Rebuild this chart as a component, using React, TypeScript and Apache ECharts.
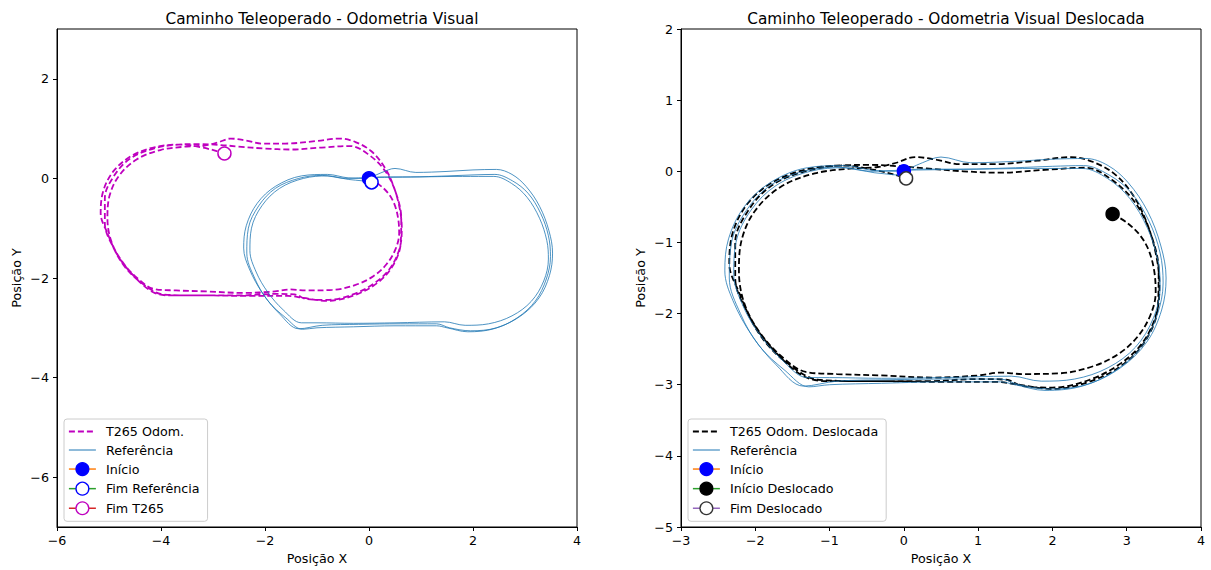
import React, { useEffect, useRef } from "react";
import * as echarts from "echarts";

// Reference path (3 laps), shared by both panels
const refX = [
  0, 0.25, 0.5, 0.9, 1.5, 2.0, 2.45, 2.75, 3.02, 3.28, 3.46, 3.53, 3.47, 3.27, 2.92, 2.45, 1.95, 1.55, 1.3, 0.6, -0.2, -0.9, -1.35, -1.72, -2.05, -2.3, -2.41, -2.36, -2.15, -1.8, -1.3, -0.8, -0.4, -0.1,
  0.2, 0.8, 1.5, 2.0, 2.42, 2.76, 3.06, 3.3, 3.45, 3.49, 3.41, 3.2, 2.85, 2.4, 1.9, 1.5, 1.3, 0.5, -0.3, -1.0, -1.28, -1.6, -1.95, -2.2, -2.35, -2.32, -2.12, -1.8, -1.35, -0.9, -0.45, -0.2,
  0.3, 1.0, 1.8, 2.4, 2.74, 3.04, 3.28, 3.42, 3.45, 3.36, 3.12, 2.75, 2.3, 1.85, 1.45, 0.5, -0.3, -1.0, -1.3, -1.65, -1.95, -2.17, -2.29, -2.26, -2.06, -1.72, -1.26, -0.8, -0.4, -0.12, 0.05,
];
const refY = [
  0, 0.12, 0.2, 0.12, 0.14, 0.17, 0.18, 0.08, -0.16, -0.56, -1.05, -1.5, -1.95, -2.4, -2.76, -3.0, -3.06, -3.0, -2.92, -2.92, -2.93, -2.95, -3.02, -2.72, -2.3, -1.82, -1.4, -0.95, -0.5, -0.16, 0.05, 0.08, 0.01, 0.0,
  0.03, 0.03, 0.05, 0.07, 0.08, -0.05, -0.3, -0.7, -1.15, -1.57, -2.02, -2.46, -2.8, -3.02, -3.08, -3.0, -2.96, -2.96, -2.98, -3.0, -3.03, -2.8, -2.45, -2.0, -1.5, -1.0, -0.55, -0.2, 0.0, 0.06, 0.0, 0.01,
  0.02, 0.03, 0.04, 0.04, -0.1, -0.38, -0.8, -1.25, -1.62, -2.06, -2.47, -2.76, -2.92, -2.95, -2.88, -2.9, -2.91, -2.9, -2.9, -2.64, -2.28, -1.88, -1.45, -1.0, -0.55, -0.2, 0.0, 0.05, -0.02, -0.05, -0.08,
];

// T265 odometry, shifted (as in the right panel)
const deslX = [
  2.81, 3.0, 3.18, 3.3, 3.37, 3.39, 3.32, 3.15, 2.9, 2.55, 2.1, 1.6, 1.3, 1.0, 0.4, -0.3, -0.9, -1.32, -1.65, -1.95, -2.15, -2.22, -2.18, -2.0, -1.66, -1.2, -0.7, -0.35, -0.1, 0.15, 0.45, 0.75, 1.2, 1.8, 2.25, 2.55, 2.85, 3.1, 3.28, 3.4, 3.44,
  3.4, 3.22, 2.92, 2.5, 2.0, 1.6, 1.38, 1.0, 0.3, -0.5, -1.15, -1.5, -1.85, -2.1, -2.27, -2.27, -2.1, -1.78, -1.33, -0.85, -0.45, -0.05, 0.3, 0.8, 1.3, 1.9, 2.45, 2.8, 3.12, 3.33, 3.43,
  3.42, 3.27, 2.97, 2.52, 2.0, 1.55, 1.25, 0.5, -0.3, -1.0, -1.35, -1.72, -2.02, -2.22, -2.35, -2.3, -2.1, -1.76, -1.3, -0.8, -0.4, -0.12, 0.03,
];
const deslY = [
  -0.6, -0.72, -0.9, -1.12, -1.4, -1.7, -2.02, -2.32, -2.56, -2.74, -2.84, -2.85, -2.83, -2.87, -2.9, -2.87, -2.85, -2.82, -2.6, -2.25, -1.85, -1.4, -0.95, -0.55, -0.22, -0.03, 0.04, 0.06, 0.12, 0.2, 0.16, 0.1, 0.1, 0.15, 0.2, 0.13, -0.05, -0.36, -0.75, -1.2, -1.6,
  -2.0, -2.4, -2.7, -2.93, -3.04, -3.02, -2.93, -2.92, -2.95, -2.95, -2.93, -2.75, -2.42, -2.0, -1.5, -1.0, -0.56, -0.2, 0.0, 0.08, 0.09, 0.07, 0.04, 0.0, -0.02, 0.02, 0.05, -0.12, -0.45, -0.9, -1.4,
  -1.9, -2.35, -2.7, -2.95, -3.06, -3.0, -2.96, -2.96, -2.95, -2.95, -2.88, -2.55, -2.15, -1.7, -1.3, -0.85, -0.45, -0.15, 0.03, 0.08, 0.02, -0.05, -0.1,
];
const shift = [2.81, -0.6];

const inicio = [0, 0];
const fimReferencia = [0.05, -0.08];

const leftTicksY = [-6, -4, -2, 0, 2];

const FONT = "DejaVu Sans";
const FS = 12.7;
const minus = (v: number) => String(v).replace("-", "\u2212");

export default function App() {
  const ref = useRef<HTMLDivElement>(null);
  useEffect(() => {
    if (!ref.current) return;
    const chart = echarts.init(ref.current, undefined, { renderer: "svg" });
    const refData = refX.map((x, i) => [x, refY[i]]);
    const deslData = deslX.map((x, i) => [x, deslY[i]]);
    const t265Data = deslX.map((x, i) => [+(x - shift[0]).toFixed(3), +(deslY[i] - shift[1]).toFixed(3)]);
    const fimT265 = t265Data[t265Data.length - 1];
    const inicioDesl = deslData[0];
    const fimDesl = deslData[deslData.length - 1];

    const axisCommon = {
      type: "value",
      axisLine: { show: true, onZero: false, lineStyle: { color: "#000", width: 1 } },
      axisTick: { show: true, inside: false, length: 4, lineStyle: { color: "#000" } },
      axisLabel: { color: "#000", fontSize: FS, fontFamily: FONT, formatter: minus },
      splitLine: { show: false },
      nameLocation: "middle",
      nameTextStyle: { color: "#000", fontSize: FS, fontFamily: FONT },
    };

    const marker = (name: string, xi: number, d: number[], fill: string, border: string, lineColor: string) => ({
      name,
      type: "line",
      xAxisIndex: xi,
      yAxisIndex: xi,
      data: [d],
      symbol: "circle",
      symbolSize: 13,
      showSymbol: true,
      itemStyle: { color: fill, borderColor: border, borderWidth: 1.5 },
      lineStyle: { color: lineColor, width: 1.5 },
      z: 5,
    });

    const legendItem = (name: string, fill: string, border: string, lineColor: string) => ({
      name,
      itemStyle: { color: fill, borderColor: border, borderWidth: 1.3, opacity: 1 },
      lineStyle: { color: lineColor, width: 1.5, type: "solid" },
    });

    const legendCommon = {
      orient: "vertical",
      itemWidth: 27,
      itemHeight: 16,
      itemGap: 5.5,
      padding: [6, 8, 6, 4],
      backgroundColor: "rgba(255,255,255,0.8)",
      borderColor: "#ccc",
      borderWidth: 1,
      borderRadius: 3,
      selectedMode: false,
      textStyle: { color: "#000", fontSize: FS, fontFamily: FONT, padding: [0, 0, 0, 5] },
    };

    const titleStyle = { fontSize: 15.3, fontWeight: "normal", color: "#000", fontFamily: FONT };

    chart.setOption({
      animation: false,
      backgroundColor: "#fff",
      title: [
        { text: "Caminho Teleoperado - Odometria Visual", left: 317, top: 6, textAlign: "center", textStyle: titleStyle },
        { text: "Caminho Teleoperado - Odometria Visual Deslocada", left: 941, top: 6, textAlign: "center", textStyle: titleStyle },
      ],
      grid: [
        { left: 57, top: 29, width: 520, height: 498, show: true, borderColor: "#000", borderWidth: 1, containLabel: false },
        { left: 681, top: 29, width: 520, height: 498, show: true, borderColor: "#000", borderWidth: 1, containLabel: false },
      ],
      xAxis: [
        { ...axisCommon, gridIndex: 0, min: -6, max: 4, interval: 2, name: "Posição X", nameGap: 23, axisLabel: { ...axisCommon.axisLabel, margin: 7 } },
        { ...axisCommon, gridIndex: 1, min: -3, max: 4, interval: 1, name: "Posição X", nameGap: 23, axisLabel: { ...axisCommon.axisLabel, margin: 7 } },
      ],
      yAxis: [
        {
          ...axisCommon, gridIndex: 0, min: -7, max: 3, name: "Posição Y", nameGap: 34,
          axisLabel: { ...axisCommon.axisLabel, margin: 8, customValues: leftTicksY },
          axisTick: { ...axisCommon.axisTick, customValues: leftTicksY },
        },
        { ...axisCommon, gridIndex: 1, min: -5, max: 2, interval: 1, name: "Posição Y", nameGap: 34, axisLabel: { ...axisCommon.axisLabel, margin: 8 } },
      ],
      legend: [
        {
          ...legendCommon, left: 64, top: 419,
          data: [
            { name: "T265 Odom.", itemStyle: { opacity: 0 }, lineStyle: { color: "#bf00bf", width: 1.8, type: [6, 3] } },
            { name: "Referência", itemStyle: { opacity: 0 }, lineStyle: { color: "#1f77b4", width: 1 } },
            legendItem("Início", "blue", "blue", "#ff7f0e"),
            legendItem("Fim Referência", "#fff", "blue", "#2ca02c"),
            legendItem("Fim T265", "#fff", "#bf00bf", "#d62728"),
          ],
        },
        {
          ...legendCommon, left: 688, top: 419,
          data: [
            { name: "T265 Odom. Deslocada", itemStyle: { opacity: 0 }, lineStyle: { color: "#000", width: 1.8, type: [6, 3] } },
            { name: "Referência", itemStyle: { opacity: 0 }, lineStyle: { color: "#1f77b4", width: 1 } },
            legendItem("Início", "blue", "blue", "#ff7f0e"),
            legendItem("Início Deslocado", "#000", "#000", "#2ca02c"),
            legendItem("Fim Deslocado", "#fff", "#333", "#9467bd"),
          ],
        },
      ],
      series: [
        {
          name: "T265 Odom.", type: "line", xAxisIndex: 0, yAxisIndex: 0, data: t265Data,
          symbol: "none", smooth: 0.35, lineStyle: { color: "#bf00bf", width: 1.8, type: [6, 3] }, itemStyle: { color: "#bf00bf" }, z: 2,
        },
        {
          name: "Referência", type: "line", xAxisIndex: 0, yAxisIndex: 0, data: refData,
          symbol: "none", smooth: 0.35, lineStyle: { color: "#1f77b4", width: 0.8 }, itemStyle: { color: "#1f77b4" }, z: 3,
        },
        marker("Início", 0, inicio, "blue", "blue", "#ff7f0e"),
        marker("Fim Referência", 0, fimReferencia, "#fff", "blue", "#2ca02c"),
        marker("Fim T265", 0, fimT265, "#fff", "#bf00bf", "#d62728"),
        {
          name: "T265 Odom. Deslocada", type: "line", xAxisIndex: 1, yAxisIndex: 1, data: deslData,
          symbol: "none", smooth: 0.35, lineStyle: { color: "#000", width: 1.8, type: [6, 3] }, itemStyle: { color: "#000" }, z: 2,
        },
        {
          name: "Referência", type: "line", xAxisIndex: 1, yAxisIndex: 1, data: refData,
          symbol: "none", smooth: 0.35, lineStyle: { color: "#1f77b4", width: 0.8 }, itemStyle: { color: "#1f77b4" }, z: 3,
        },
        marker("Início", 1, inicio, "blue", "blue", "#ff7f0e"),
        marker("Início Deslocado", 1, inicioDesl, "#000", "#000", "#2ca02c"),
        marker("Fim Deslocado", 1, fimDesl, "#fff", "#333", "#9467bd"),
      ],
    } as any);
    return () => chart.dispose();
  }, []);
  return (
    <div
      ref={ref}
      style={{ position: "fixed", left: 0, top: 0, width: 1211, height: 570, background: "#fff" }}
    />
  );
}
